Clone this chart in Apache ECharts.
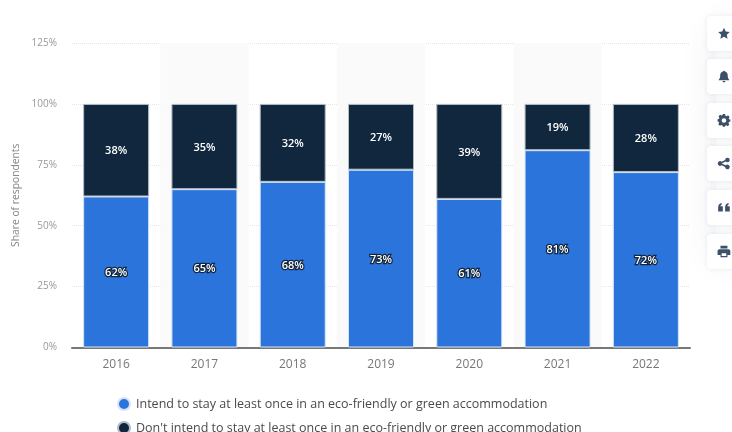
<!DOCTYPE html>
<html>
<head>
<meta charset="utf-8">
<style>html,body{margin:0;padding:0;background:#fff}#chart{width:732px;height:432px}</style>
<script src="https://cdn.jsdelivr.net/npm/echarts@6/dist/echarts.min.js"></script>
</head>
<body>
<div id="chart"></div>
<script>
const years = ['2016','2017','2018','2019','2020','2021','2022'];
const intendValues = [62,65,68,73,61,81,72];
const notIntendValues = [38,35,32,27,39,19,28];
const intendName = 'Intend to stay at least once in an eco-friendly or green accommodation';
const notIntendName = "Don't intend to stay at least once in an eco-friendly or green accommodation";
const FONT = '"Open Sans", sans-serif';

// Toolbar icons on the right-hand rail, each in a 24x24 box
const toolIcons = [
  'M12 2l3 6.6 7 .8-5.2 4.8 1.4 7L12 17.7 5.8 21.2l1.4-7L2 9.4l7-.8z',
  'M12 2c1 0 1.6.7 1.7 1.6C17 4.4 18.5 7 18.5 10.5c0 4 1 5.5 2.5 7v1H3v-1c1.5-1.5 2.5-3 2.5-7C5.5 7 7 4.4 10.3 3.6 10.4 2.7 11 2 12 2zM9.5 20h5c0 1.4-1.1 2.2-2.5 2.2S9.5 21.4 9.5 20z',
  'M10 1h4l.6 2.8 1.9.8 2.5-1.5 2.8 2.8-1.5 2.5.8 1.9L23 10v4l-2.4.6-.8 1.9 1.5 2.5-2.8 2.8-2.5-1.5-1.9.8L14 23h-4l-.6-2.4-1.9-.8-2.5 1.5-2.8-2.8 1.5-2.5-.8-1.9L1 14v-4l2.3-.7.8-1.9-1.5-2.5 2.8-2.8 2.5 1.5 1.9-.8zM12 8a4 4 0 1 0 0 8 4 4 0 0 0 0-8z',
  'M18 2a4 4 0 1 1-3 6.7l-6.1 3a4 4 0 0 1 0 .6l6.1 3A4 4 0 1 1 14 18l-6.1-3a4 4 0 1 1 0-6L14 6a4 4 0 0 1 4-4z',
  'M2 12C2 8 4 5.5 8 4.5v3C6.5 8 6 9 6 10h4v9H2zM14 12c0-4 2-6.5 6-7.500v3C18.500 8 18 9 18 10h4v9h-8z',
  'M6 2h12v5H6zM4 8h16a3 3 0 0 1 3 3v7h-5v4H6v-4H1v-7a3 3 0 0 1 3-3zM8 15v5h8v-5z'
];
const cardTops = [16,59,103,146,190,234];

toolIcons.forEach((d,i)=>{
  echarts.graphic.registerShape('toolIcon'+i, echarts.graphic.extendPath(d,{}));
});

// Soft haze behind the toolbar, then one card and icon per tool
const railElements = [{
  type:'rect', shape:{x:716,y:30,width:40,height:225}, silent:true,
  style:{fill:'#f8f9fb',shadowBlur:34,shadowColor:'rgba(60,80,110,0.13)'}
}];
cardTops.forEach((top,i)=>{
  railElements.push({
    type:'rect', shape:{x:707,y:top,width:40,height:35,r:4}, silent:true,
    style:{fill:'#fff',shadowBlur:4,shadowColor:'rgba(60,80,110,0.10)'}
  });
  railElements.push({
    type:'toolIcon'+i, silent:true, x:717, y:top+10.5, scaleX:0.58, scaleY:0.58,
    style:{fill:'#3d5069'}
  });
});

const segmentLabel = (extra) => Object.assign({
  show:true, position:'inside', offset:[0,1], formatter:'{c}%', color:'#fff',
  fontFamily:FONT, fontSize:11, fontWeight:600
}, extra);

const legendRow = (name, top) => ({
  orient:'horizontal', left:117, top, padding:0, itemWidth:12, itemHeight:12,
  icon:'circle', selectedMode:false, data:[name],
  textStyle:{fontFamily:FONT,fontSize:12.5,color:'#4a4a4a',padding:[3,0,0,1]}
});

const chart = echarts.init(document.getElementById('chart'), null, {renderer:'canvas'});
chart.setOption({
  animation:false,
  backgroundColor:'#fff',
  grid:{left:72,right:42,top:43,bottom:84.5},
  legend:[legendRow(intendName,397),legendRow(notIntendName,421)],
  xAxis:{
    type:'category', data:years,
    axisTick:{show:false},
    axisLine:{lineStyle:{color:'#777',width:2}},
    axisLabel:{fontFamily:FONT,fontSize:12,color:'#777',margin:11},
    splitArea:{show:true,areaStyle:{color:['rgba(0,0,0,0)','#fafafa']}}
  },
  yAxis:{
    type:'value', min:0, max:125, interval:25,
    name:'Share of respondents', nameLocation:'middle', nameRotate:90, nameGap:50,
    nameTextStyle:{fontFamily:FONT,fontSize:10.3,color:'#888'},
    axisLine:{show:false}, axisTick:{show:false},
    axisLabel:{fontFamily:FONT,fontSize:10,color:'#999',formatter:'{value}%',margin:15},
    splitLine:{lineStyle:{color:'#e6e6e6',type:'dotted',width:1}}
  },
  series:[
    {
      name:intendName, type:'bar', stack:'total', data:intendValues, barWidth:66,
      itemStyle:{color:'#2a74dc',borderColor:'#d6e4f7',borderWidth:1},
      label:segmentLabel({textBorderColor:'#14263c',textBorderWidth:2.5})
    },
    {
      name:notIntendName, type:'bar', stack:'total', data:notIntendValues, barWidth:66,
      itemStyle:{color:'#10273d',borderColor:'#b4bcc6',borderWidth:1},
      label:segmentLabel({textBorderWidth:0})
    }
  ],
  graphic:railElements
});
</script>
</body>
</html>
